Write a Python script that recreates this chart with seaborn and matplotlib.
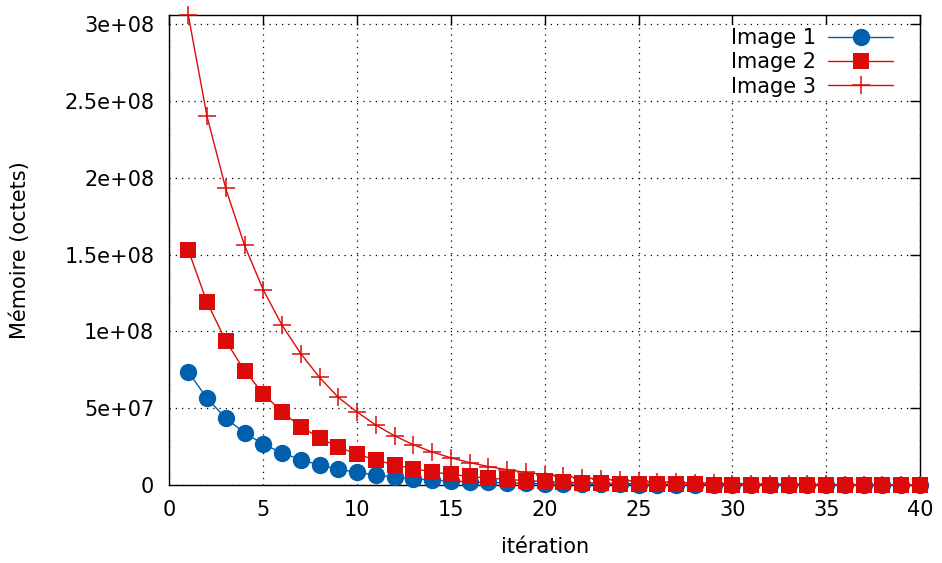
import numpy as np
import pandas as pd
import matplotlib
matplotlib.use("Agg")
import matplotlib.pyplot as plt
import seaborn as sns

# Data
iterations = list(range(1, 41))
image1 = [7.37e7, 5.65e7, 4.35e7, 3.40e7, 2.66e7, 2.09e7, 1.65e7, 1.30e7, 1.03e7, 8.2e6,
          6.5e6, 5.2e6, 4.1e6, 3.3e6, 2.6e6, 2.1e6, 1.7e6, 1.35e6, 1.08e6, 8.6e5,
          6.9e5, 5.5e5, 4.4e5, 3.5e5, 2.8e5, 2.2e5, 1.8e5, 1.4e5, 1.1e5, 9.0e4,
          7.2e4, 5.8e4, 4.6e4, 3.7e4, 2.9e4, 2.3e4, 1.9e4, 1.5e4, 1.2e4, 9.6e3]
image2 = [1.53e8, 1.19e8, 9.39e7, 7.44e7, 5.94e7, 4.75e7, 3.80e7, 3.07e7, 2.47e7, 2.01e7,
          1.63e7, 1.31e7, 1.06e7, 8.6e6, 6.9e6, 5.6e6, 4.5e6, 3.6e6, 2.9e6, 2.35e6,
          1.9e6, 1.5e6, 1.2e6, 9.8e5, 7.9e5, 6.3e5, 5.1e5, 4.1e5, 3.3e5, 2.6e5,
          2.1e5, 1.7e5, 1.35e5, 1.1e5, 8.8e4, 7.0e4, 5.6e4, 4.5e4, 3.6e4, 2.9e4]
image3 = [3.06e8, 2.40e8, 1.93e8, 1.56e8, 1.27e8, 1.04e8, 8.55e7, 7.00e7, 5.70e7, 4.75e7,
          3.90e7, 3.20e7, 2.62e7, 2.15e7, 1.77e7, 1.46e7, 1.20e7, 1.00e7, 8.2e6, 6.8e6,
          5.6e6, 4.6e6, 3.8e6, 3.1e6, 2.6e6, 2.1e6, 1.7e6, 1.4e6, 1.2e6, 9.5e5,
          8.0e5, 6.5e5, 5.3e5, 4.4e5, 3.6e5, 3.0e5, 2.4e5, 2.0e5, 1.6e5, 1.3e5]

y_ticks = [0, 5e7, 1e8, 1.5e8, 2e8, 2.5e8, 3e8]
y_tick_labels = ["0", "5e+07", "1e+08", "1.5e+08", "2e+08", "2.5e+08", "3e+08"]
x_ticks = [0, 5, 10, 15, 20, 25, 30, 35, 40]

blue = "#0060ad"
red = "#dd0a0a"

sns.set_style("white")
plt.rcParams['font.family'] = ['DejaVu Sans']
plt.rcParams['text.color'] = 'black'
plt.rcParams['axes.labelcolor'] = 'black'

fig = plt.figure(figsize=(9.42, 5.63), dpi=100)
ax = fig.add_axes([0.1799, 0.1385, 0.7967, 0.8348])

df = pd.DataFrame({"iteration": iterations, "Image 1": image1,
                   "Image 2": image2, "Image 3": image3})

sns.lineplot(data=df, x="iteration", y="Image 1", ax=ax, color=blue, lw=1,
             marker="o", markersize=12.5, markeredgewidth=0, label="Image 1",
             clip_on=False, zorder=3)
sns.lineplot(data=df, x="iteration", y="Image 2", ax=ax, color=red, lw=1,
             marker="s", markersize=12, markeredgewidth=0, label="Image 2",
             clip_on=False, zorder=4)
sns.lineplot(data=df, x="iteration", y="Image 3", ax=ax, color=red, lw=1,
             marker="+", markersize=13, markeredgewidth=1.1, markeredgecolor=red,
             label="Image 3", clip_on=False, zorder=5)

ax.set_xlim(0, 40)
ax.set_ylim(0, 3.0586e8)
ax.set_xticks(x_ticks)
ax.set_xticklabels([str(t) for t in x_ticks])
ax.set_yticks(y_ticks)
ax.set_yticklabels(y_tick_labels)
ax.tick_params(direction="in", length=7, width=1, colors="black", labelsize=15,
               top=True, right=True)
ax.tick_params(axis="y", pad=11)
ax.tick_params(axis="x", pad=11)
for s in ax.spines.values():
    s.set_color("black")
    s.set_linewidth(1)
    s.set_zorder(2.5)
ax.grid(True, color="black", linestyle=(0, (1, 4)), linewidth=0.9)
ax.set_axisbelow(True)

ax.set_xlabel("itération", fontsize=15)
ax.set_ylabel("Mémoire (octets)", fontsize=15)
ax.xaxis.set_label_coords(0.5, -0.132)
ax.xaxis.label.set_va("center")
ax.yaxis.set_label_coords(-0.199, 0.5)
ax.yaxis.label.set_va("center")

# opaque key box without border, like the original
leg = ax.legend(loc="upper right", bbox_to_anchor=(0.968, 0.9787), frameon=True,
                fancybox=False, framealpha=1, facecolor="white", edgecolor="none",
                markerfirst=False, fontsize=15, handlelength=3.1, handletextpad=0.6,
                borderaxespad=0, borderpad=0.15, labelspacing=0.2)

fig.savefig("out.png", dpi=100)
